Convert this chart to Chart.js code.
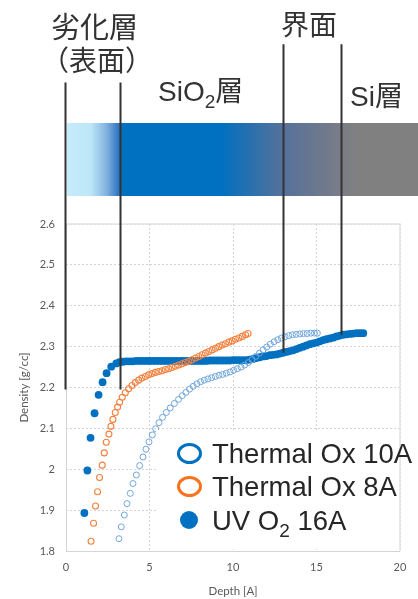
<!DOCTYPE html>
<html>
<head>
<meta charset="utf-8">
<script src="https://cdn.jsdelivr.net/npm/chart.js@4"></script>
<style>
  html, body { margin: 0; padding: 0; background: #fff; }
  #wrap { position: relative; width: 418px; height: 599px; overflow: hidden; }
  #band {
    position: absolute; left: 66.5px; top: 122.5px; width: 352px; height: 73.5px;
    background: linear-gradient(to right,
      #C4ECFB 0px, #BDE6F8 24px, #7FB0DE 40px, #3A7DC6 50px, #0070C0 56px,
      #0070C0 154px, #56719B 216px, #7A7D86 275px, #808080 290px, #808080 352px);
  }
  #c { position: absolute; left: 0; top: 0; }
  .lbl { position: absolute; white-space: nowrap; color: #333; font-size: 28px; line-height: 28px; }
  .cjk { font-family: "Noto Sans CJK JP"; }
  .lat { font-family: "Liberation Sans", "Noto Sans CJK JP"; }
  .sub { font-size: 19px; vertical-align: -6.6px; }
  #legendBox { position: absolute; left: 156px; top: 430px; width: 243px; height: 119px; background: #fff; }
  .ltext { position: absolute; left: 212px; white-space: nowrap; color: #262626;
           font-family: "Liberation Sans"; font-size: 27.5px; line-height: 28px; }
  .lsub { font-size: 19px; vertical-align: -7px; }
  .ring { position: absolute; box-sizing: border-box; width: 25px; height: 21px; border-radius: 50%; border: 3.6px solid; background: transparent; }
  .dot { position: absolute; width: 18px; height: 18px; border-radius: 50%; }
</style>
</head>
<body>
<div id="wrap">
  <div id="band"></div>
  <canvas id="c" width="418" height="599"></canvas>
  <div class="lbl cjk" style="left:51px; top:11px; font-size:29px;">劣化層</div>
  <div class="lbl cjk" style="left:41px; top:45px;">（表面）</div>
  <div class="lbl cjk" style="left:281px; top:9px;">界面</div>
  <div class="lbl lat" style="left:158px; top:78px;">SiO<span class="sub">2</span>層</div>
  <div class="lbl lat" style="left:350px; top:83px;">Si層</div>
  <div id="legendBox"></div>
  <div id="legendItems"></div>
</div>
<script>
// Depth profiles: depth in Å, density in g/cc
const seriesNames = ['Thermal Ox 10A', 'Thermal Ox 8A', 'UV O2 16A'];

const ox10Depth = [3.17, 3.31, 3.49, 3.65, 3.85, 4.01, 4.21, 4.41, 4.61, 4.79, 4.97, 5.17, 5.37, 5.57, 5.78, 6.01, 6.24, 6.49, 6.74,
  6.96, 7.18, 7.40, 7.62, 7.84, 8.06, 8.28, 8.50, 8.72, 8.94, 9.16, 9.38, 9.60, 9.82, 10.04, 10.26, 10.48, 10.70, 10.92,
  11.14, 11.36, 11.58, 11.80, 12.02, 12.24, 12.46, 12.68, 12.90, 13.12, 13.34, 13.56, 13.78, 14.00, 14.22, 14.44, 14.66, 14.88, 15.05];
const ox10Density = [1.830, 1.859, 1.888, 1.916, 1.941, 1.965, 1.986, 2.009, 2.030, 2.049, 2.067, 2.084, 2.099, 2.114, 2.127, 2.139, 2.150, 2.161, 2.171,
  2.180, 2.188, 2.196, 2.203, 2.209, 2.214, 2.218, 2.221, 2.224, 2.227, 2.230, 2.232, 2.235, 2.238, 2.242, 2.246, 2.250, 2.255, 2.261,
  2.268, 2.276, 2.284, 2.292, 2.299, 2.306, 2.312, 2.317, 2.321, 2.324, 2.327, 2.329, 2.330, 2.331, 2.332, 2.332, 2.333, 2.333, 2.333];

const ox8Depth = [1.50, 1.65, 1.77, 1.89, 2.01, 2.17, 2.29, 2.41, 2.57, 2.69, 2.81, 2.95, 3.09, 3.21, 3.37, 3.55, 3.75, 3.95, 4.15,
  4.35, 4.55, 4.75, 4.95, 5.15, 5.35, 5.55, 5.75, 5.95, 6.15, 6.35, 6.55, 6.75, 6.95, 7.15, 7.35, 7.55, 7.75, 7.95,
  8.15, 8.35, 8.55, 8.75, 8.95, 9.15, 9.35, 9.55, 9.75, 9.95, 10.15, 10.35, 10.55, 10.75, 10.90];
const ox8Density = [1.824, 1.868, 1.910, 1.945, 1.980, 2.010, 2.040, 2.066, 2.086, 2.105, 2.122, 2.139, 2.152, 2.164, 2.176, 2.187, 2.197, 2.205, 2.212,
  2.218, 2.223, 2.227, 2.231, 2.234, 2.237, 2.239, 2.241, 2.244, 2.246, 2.249, 2.252, 2.255, 2.258, 2.261, 2.264, 2.268, 2.272, 2.276,
  2.280, 2.284, 2.288, 2.292, 2.296, 2.300, 2.304, 2.307, 2.311, 2.314, 2.318, 2.321, 2.325, 2.329, 2.332];

const uvDepth = [1.10, 1.28, 1.47, 1.71, 1.95, 2.19, 2.43, 2.71, 3.01,
  3.2, 3.4, 3.6, 3.8, 4.0, 4.2, 4.4, 4.6, 4.8, 5.0, 5.2, 5.4, 5.6, 5.8, 6.0, 6.2, 6.4, 6.6, 6.8, 7.0,
  7.2, 7.4, 7.6, 7.8, 8.0, 8.2, 8.4, 8.6, 8.8, 9.0, 9.2, 9.4, 9.6, 9.8, 10.0, 10.2, 10.4, 10.6, 10.8, 11.0,
  11.2, 11.4, 11.6, 11.8, 12.0, 12.2, 12.4, 12.6, 12.8, 13.0, 13.2, 13.4, 13.6, 13.8, 14.0, 14.2, 14.4, 14.6, 14.8, 15.0,
  15.2, 15.4, 15.6, 15.8, 16.0, 16.2, 16.4, 16.6, 16.8, 17.0, 17.2, 17.4, 17.6, 17.8];
const uvDensity = [1.893, 1.997, 2.077, 2.137, 2.182, 2.213, 2.235, 2.251, 2.259,
  2.262, 2.263, 2.264, 2.264, 2.264, 2.265, 2.265, 2.265, 2.265, 2.265, 2.265, 2.265, 2.265, 2.265, 2.265, 2.265, 2.265, 2.265, 2.265, 2.265,
  2.265, 2.265, 2.265, 2.265, 2.265, 2.265, 2.265, 2.266, 2.266, 2.266, 2.266, 2.266, 2.266, 2.266, 2.267, 2.267, 2.267, 2.267, 2.267, 2.268,
  2.270, 2.272, 2.274, 2.276, 2.277, 2.279, 2.280, 2.281, 2.283, 2.285, 2.287, 2.289, 2.291, 2.294, 2.297, 2.300, 2.303, 2.306, 2.308, 2.310,
  2.313, 2.316, 2.318, 2.320, 2.322, 2.325, 2.327, 2.329, 2.330, 2.331, 2.332, 2.333, 2.333, 2.333];

// Layer boundary markers: depth and the density where each line stops
const boundaryDepth = [0, 3.3, 13.05, 16.5];
const boundaryEnd = [2.195, 2.195, 2.285, 2.329];
const boundaryTop = [82.5, 82.5, 44.3, 44.3];

const xTicks = [0, 5, 10, 15, 20];
const yMin = 1.8, yMax = 2.6;

function toPoints(xs, ys) { return xs.map((x, i) => ({ x: x, y: ys[i] })); }

const seriesColors = ['#0070C0', '#F7731E', '#0070C0'];

const layerPlugin = {
  id: 'layerPlugin',
  beforeDatasetsDraw(chart) {
    const { ctx, chartArea: a } = chart;
    ctx.save();
    ctx.lineWidth = 1.5;
    ctx.strokeStyle = '#e4e4e4';
    ctx.beginPath();
    ctx.moveTo(a.left, a.top); ctx.lineTo(a.right, a.top); ctx.lineTo(a.right, a.bottom);
    ctx.stroke();
    ctx.lineWidth = 1;
    ctx.strokeStyle = '#d4d4d4';
    ctx.beginPath();
    ctx.moveTo(a.left + 0.5, a.top); ctx.lineTo(a.left + 0.5, a.bottom + 0.5); ctx.lineTo(a.right, a.bottom + 0.5);
    ctx.stroke();
    ctx.restore();
  },
  afterDraw(chart) {
    const { ctx } = chart;
    const xs = chart.scales.x, ys = chart.scales.y;
    ctx.save();
    ctx.strokeStyle = '#333333';
    ctx.lineWidth = 2;
    boundaryDepth.forEach((d, i) => {
      const px = Math.round(xs.getPixelForValue(d)) - 0.5;
      ctx.beginPath();
      ctx.moveTo(px, boundaryTop[i]);
      ctx.lineTo(px, ys.getPixelForValue(boundaryEnd[i]));
      ctx.stroke();
    });
    ctx.restore();
  }
};

new Chart(document.getElementById('c'), {
  type: 'scatter',
  data: {
    datasets: [
      { label: seriesNames[0], data: toPoints(ox10Depth, ox10Density),
        pointRadius: 3, pointBorderWidth: 1, pointBorderColor: '#70A6DC', pointBackgroundColor: 'rgba(0,0,0,0)' },
      { label: seriesNames[1], data: toPoints(ox8Depth, ox8Density),
        pointRadius: 3, pointBorderWidth: 1.1, pointBorderColor: '#F3823F', pointBackgroundColor: 'rgba(0,0,0,0)' },
      { label: seriesNames[2], data: toPoints(uvDepth, uvDensity),
        pointRadius: 3.9, pointBorderWidth: 0, pointBorderColor: '#0070C0', pointBackgroundColor: '#0070C0' }
    ]
  },
  options: {
    responsive: false,
    animation: false,
    events: [],
    layout: { padding: { top: 224, right: 18, left: 0, bottom: 0 } },
    plugins: { legend: { display: false }, tooltip: { enabled: false } },
    scales: {
      x: {
        type: 'linear', min: xTicks[0], max: xTicks[xTicks.length - 1],
        afterBuildTicks(s) { s.ticks = xTicks.map(v => ({ value: v })); },
        afterFit(s) { s.height = 48; },
        ticks: { padding: 10, color: '#595959', font: { family: 'Lato', size: 11 } },
        grid: { color: '#d4d4d4', lineWidth: 1, drawTicks: false },
        border: { display: false, dash: [2, 2] },
        title: { display: true, text: 'Depth [A]', color: '#595959', font: { family: 'Lato', size: 11.5 }, padding: { top: 0, bottom: 1 } }
      },
      y: {
        type: 'linear', min: yMin, max: yMax,
        ticks: { stepSize: 0.1, padding: 11, color: '#595959', font: { family: 'Lato', size: 11 },
                 callback: v => String(parseFloat(Number(v).toFixed(1))) },
        afterFit(s) { s.width = 66; },
        grid: { color: '#d4d4d4', lineWidth: 1, drawTicks: false },
        border: { display: false, dash: [2, 2] },
        title: { display: true, text: 'Density [g/cc]', color: '#595959', font: { family: 'Lato', size: 11.5 }, padding: { top: 17, bottom: 0 } }
      }
    }
  },
  plugins: [layerPlugin]
});

// Legend built from the series names and colours
const legendRows = [
  { top: 440, cy: 453.3, marker: 'ring' },
  { top: 473, cy: 486.7, marker: 'ring' },
  { top: 506.5, cy: 520, marker: 'dot' }
];
const legendEl = document.getElementById('legendItems');
seriesNames.forEach((name, i) => {
  const r = legendRows[i];
  const m = document.createElement('div');
  m.className = r.marker;
  if (r.marker === 'ring') {
    m.style.borderColor = seriesColors[i];
    m.style.left = (189.3 - 12.5) + 'px';
    m.style.top = (r.cy - 10.5) + 'px';
  } else {
    m.style.background = seriesColors[i];
    m.style.left = (188.5 - 9) + 'px';
    m.style.top = (r.cy - 9) + 'px';
  }
  legendEl.appendChild(m);
  const t = document.createElement('div');
  t.className = 'ltext';
  t.style.top = r.top + 'px';
  t.innerHTML = name.replace(/O2/, 'O<span class="lsub">2</span>');
  legendEl.appendChild(t);
});
</script>
</body>
</html>
